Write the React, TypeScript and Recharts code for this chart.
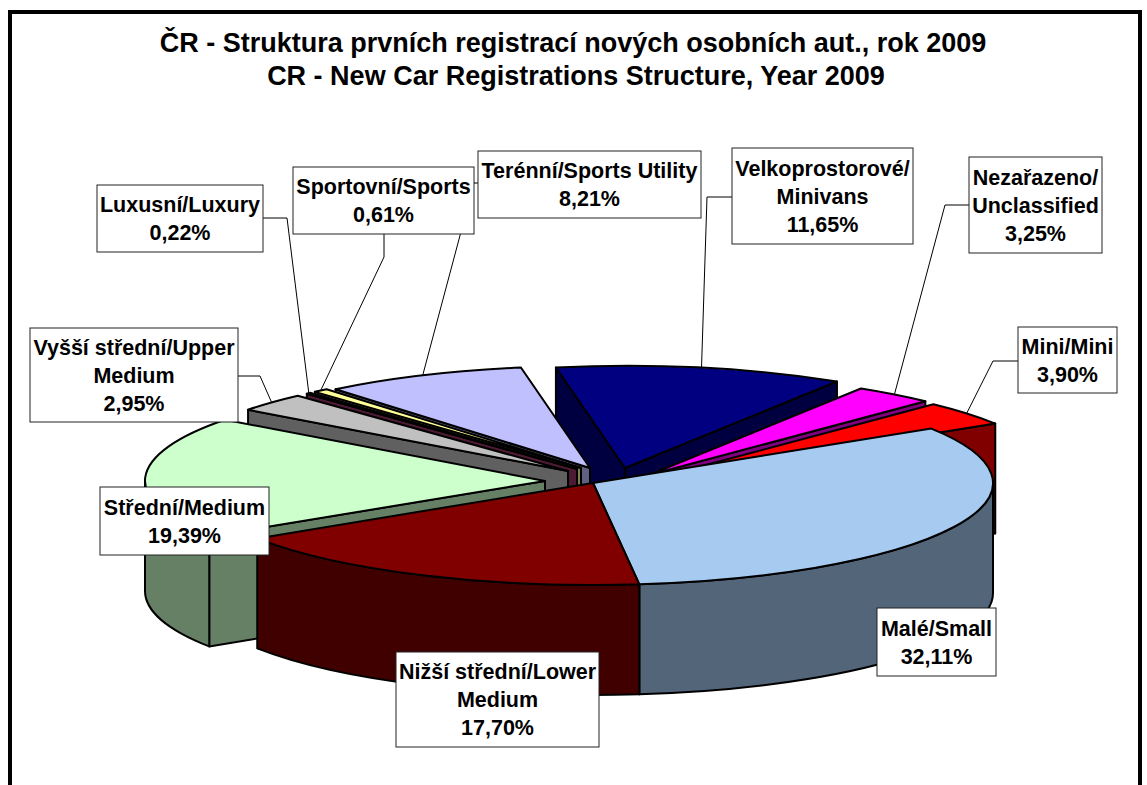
import React from 'react';
import { PieChart, Pie } from 'recharts';

const TITLE_CZ = 'ČR - Struktura prvních registrací nových osobních aut., rok 2009';
const TITLE_EN = 'CR - New Car Registrations Structure, Year 2009';

// categories in data order ('\n' = where the chart breaks the label)
const CATEGORIES = [
  'Mini/Mini',
  'Malé/Small',
  'Nižší střední/Lower\nMedium',
  'Střední/Medium',
  'Vyšší střední/Upper\nMedium',
  'Luxusní/Luxury',
  'Sportovní/Sports',
  'Terénní/Sports Utility',
  'Velkoprostorové/\nMinivans',
  'Nezařazeno/\nUnclassified',
];
const SHARES = [3.9, 32.11, 17.7, 19.39, 2.95, 0.22, 0.61, 8.21, 11.65, 3.25];

const TOP_COLORS = ['#ff0000', '#a6caf0', '#800000', '#ccffcc', '#c0c0c0', '#993366', '#ffff99', '#c0c0ff', '#000080', '#ff00ff'];
const SIDE_COLORS = ['#800000', '#536579', '#400000', '#668066', '#606060', '#4d1a33', '#80804d', '#606080', '#000040', '#800080'];

// geometry of the tilted pie
const W = 1147;
const H = 785;
const CX = 585;
const CY = 478;
const RX = 400;
const TILT = 0.255;
const DEPTH = 110;
const FIRST_ANGLE = 43.7; // clockwise from 12 o'clock
const RAD = Math.PI / 180;
const FONT = 'Arial, "Liberation Sans", sans-serif';

// explosion shift of each slice, px
const SHIFT = [[72, 0], [8, 5], [8, 5], [-40, 3], [-17, -7], [-8, -9], [-4, -10], [5, -10], [40, -10], [64, -3]];
// label boxes: x, y, w, h
const BOXES = [
  [1018, 327, 99, 66],
  [877, 608, 119, 68],
  [396, 652, 203, 95],
  [100, 487, 169, 68],
  [30, 328, 208, 94],
  [97, 185, 166, 67],
  [293, 167, 181, 67],
  [478, 151, 223, 67],
  [732, 148, 181, 96],
  [969, 157, 133, 96],
];
// leader lines: start on box, elbow
const LEADERS: (number[] | null)[] = [
  [1018, 361, 993, 361],
  null,
  null,
  null,
  [238, 376, 260, 376],
  [263, 218, 287, 218],
  [384, 234, 384, 257],
  [478, 183, 474, 183],
  [732, 197, 707, 197],
  [969, 205, 945, 205],
];

const data = CATEGORIES.map((name, i) => ({ name, value: SHARES[i] }));

// back-to-front painting order
const total = SHARES.reduce((a, b) => a + b, 0);
let acc = 0;
const MIDS = SHARES.map((v) => {
  const m = FIRST_ANGLE + ((acc + v / 2) / total) * 360;
  acc += v;
  return m;
});
const ORDER = MIDS.map((_, i) => i).sort((a, b) => Math.cos(MIDS[b] * RAD) - Math.cos(MIDS[a] * RAD));

function geom(p: any) {
  const [dx, dy] = SHIFT[p.index];
  const cx = (p.cx ?? CX) + dx;
  const cy = (p.cy ?? CY) + dy;
  const rx = p.outerRadius ?? RX;
  const ry = rx * TILT;
  const t0 = 90 - p.startAngle;
  const t1 = 90 - p.endAngle;
  const tm = 90 - p.midAngle;
  const pt = (t: number, dz = 0) => [cx + rx * Math.sin(t * RAD), cy - ry * Math.cos(t * RAD) + dz];
  return { cx, cy, rx, ry, t0, t1, tm, pt };
}

const renderWalls = (only: number) => (p: any) => {
  if (p.index !== only) return null;
  const g = geom(p);
  const apex = [g.cx, g.cy];
  const apexLow = [g.cx, g.cy + DEPTH];
  const paths: string[] = [];
  const face = (t: number) => `M${apex} L${g.pt(t)} L${g.pt(t, DEPTH)} L${apexLow} Z`;
  if (Math.sin(g.t0 * RAD) < 0) paths.push(face(g.t0));
  if (Math.sin(g.t1 * RAD) > 0) paths.push(face(g.t1));
  const b0 = Math.max(g.t0, 90);
  const b1 = Math.min(g.t1, 270);
  if (b1 > b0) {
    paths.push(
      `M${g.pt(b0)} A${g.rx} ${g.ry} 0 0 1 ${g.pt(b1)} L${g.pt(b1, DEPTH)} A${g.rx} ${g.ry} 0 0 0 ${g.pt(b0, DEPTH)} Z`
    );
  }
  return (
    <g>
      {paths.map((d, k) => (
        <path key={k} d={d} fill={SIDE_COLORS[p.index]} stroke="#000" strokeWidth={2} strokeLinejoin="round" />
      ))}
    </g>
  );
};

const renderTop = (only: number) => (p: any) => {
  if (p.index !== only) return null;
  const g = geom(p);
  const large = g.t1 - g.t0 > 180 ? 1 : 0;
  const d = `M${g.cx},${g.cy} L${g.pt(g.t0)} A${g.rx} ${g.ry} 0 ${large} 1 ${g.pt(g.t1)} Z`;
  return <path d={d} fill={TOP_COLORS[p.index]} stroke="#000" strokeWidth={2} strokeLinejoin="round" />;
};

const renderLeader = (p: any) => {
  const l = LEADERS[p.index];
  if (!l) return null;
  const g = geom(p);
  const end = g.pt(g.tm);
  return <polyline points={`${l[0]},${l[1]} ${l[2]},${l[3]} ${end}`} fill="none" stroke="#000" strokeWidth={1} />;
};

const renderBox = (p: any) => {
  const [x, y, w, h] = BOXES[p.index];
  const lines = [...CATEGORIES[p.index].split('\n'), `${SHARES[p.index].toFixed(2).replace('.', ',')}%`];
  const lh = 28;
  const first = y + (h - lines.length * lh) / 2 + 21.5;
  return (
    <g>
      <rect x={x} y={y} width={w} height={h} fill="#fff" stroke="#222" strokeWidth={1} />
      {lines.map((s, k) => (
        <text key={k} x={x + w / 2} y={first + k * lh} textAnchor="middle" fontFamily={FONT} fontWeight="bold" fontSize={21.5} fill="#000">
          {s}
        </text>
      ))}
    </g>
  );
};

const pieProps = {
  data,
  dataKey: 'value',
  nameKey: 'name',
  cx: CX,
  cy: CY,
  outerRadius: RX,
  startAngle: 90 - FIRST_ANGLE,
  endAngle: 90 - FIRST_ANGLE - 360,
  fill: 'none',
  stroke: 'none',
  isAnimationActive: false,
  labelLine: false,
};

export default function App() {
  return (
    <div style={{ position: 'absolute', left: 0, top: 0, width: W, height: H, overflow: 'hidden', background: '#fff' }}>
      <svg width={W} height={H} style={{ position: 'absolute', left: 0, top: 0 }}>
        <rect x={10} y={12} width={1130} height={900} fill="none" stroke="#000" strokeWidth={4} />
        <text x={573} y={52} textAnchor="middle" fontFamily={FONT} fontWeight="bold" fontSize={27} fill="#000">
          {TITLE_CZ}
        </text>
        <text x={576} y={85} textAnchor="middle" fontFamily={FONT} fontWeight="bold" fontSize={27} fill="#000">
          {TITLE_EN}
        </text>
      </svg>
      <div style={{ position: 'absolute', left: 0, top: 0 }}>
        <PieChart width={W} height={H} margin={{ top: 0, right: 0, bottom: 0, left: 0 }}>
          {ORDER.map((i) => (
            <Pie key={`wall-${i}`} {...pieProps} label={renderWalls(i)} />
          ))}
          {ORDER.map((i) => (
            <Pie key={`top-${i}`} {...pieProps} label={renderTop(i)} />
          ))}
          <Pie key="leaders" {...pieProps} label={renderLeader} />
          <Pie key="boxes" {...pieProps} label={renderBox} />
        </PieChart>
      </div>
    </div>
  );
}
